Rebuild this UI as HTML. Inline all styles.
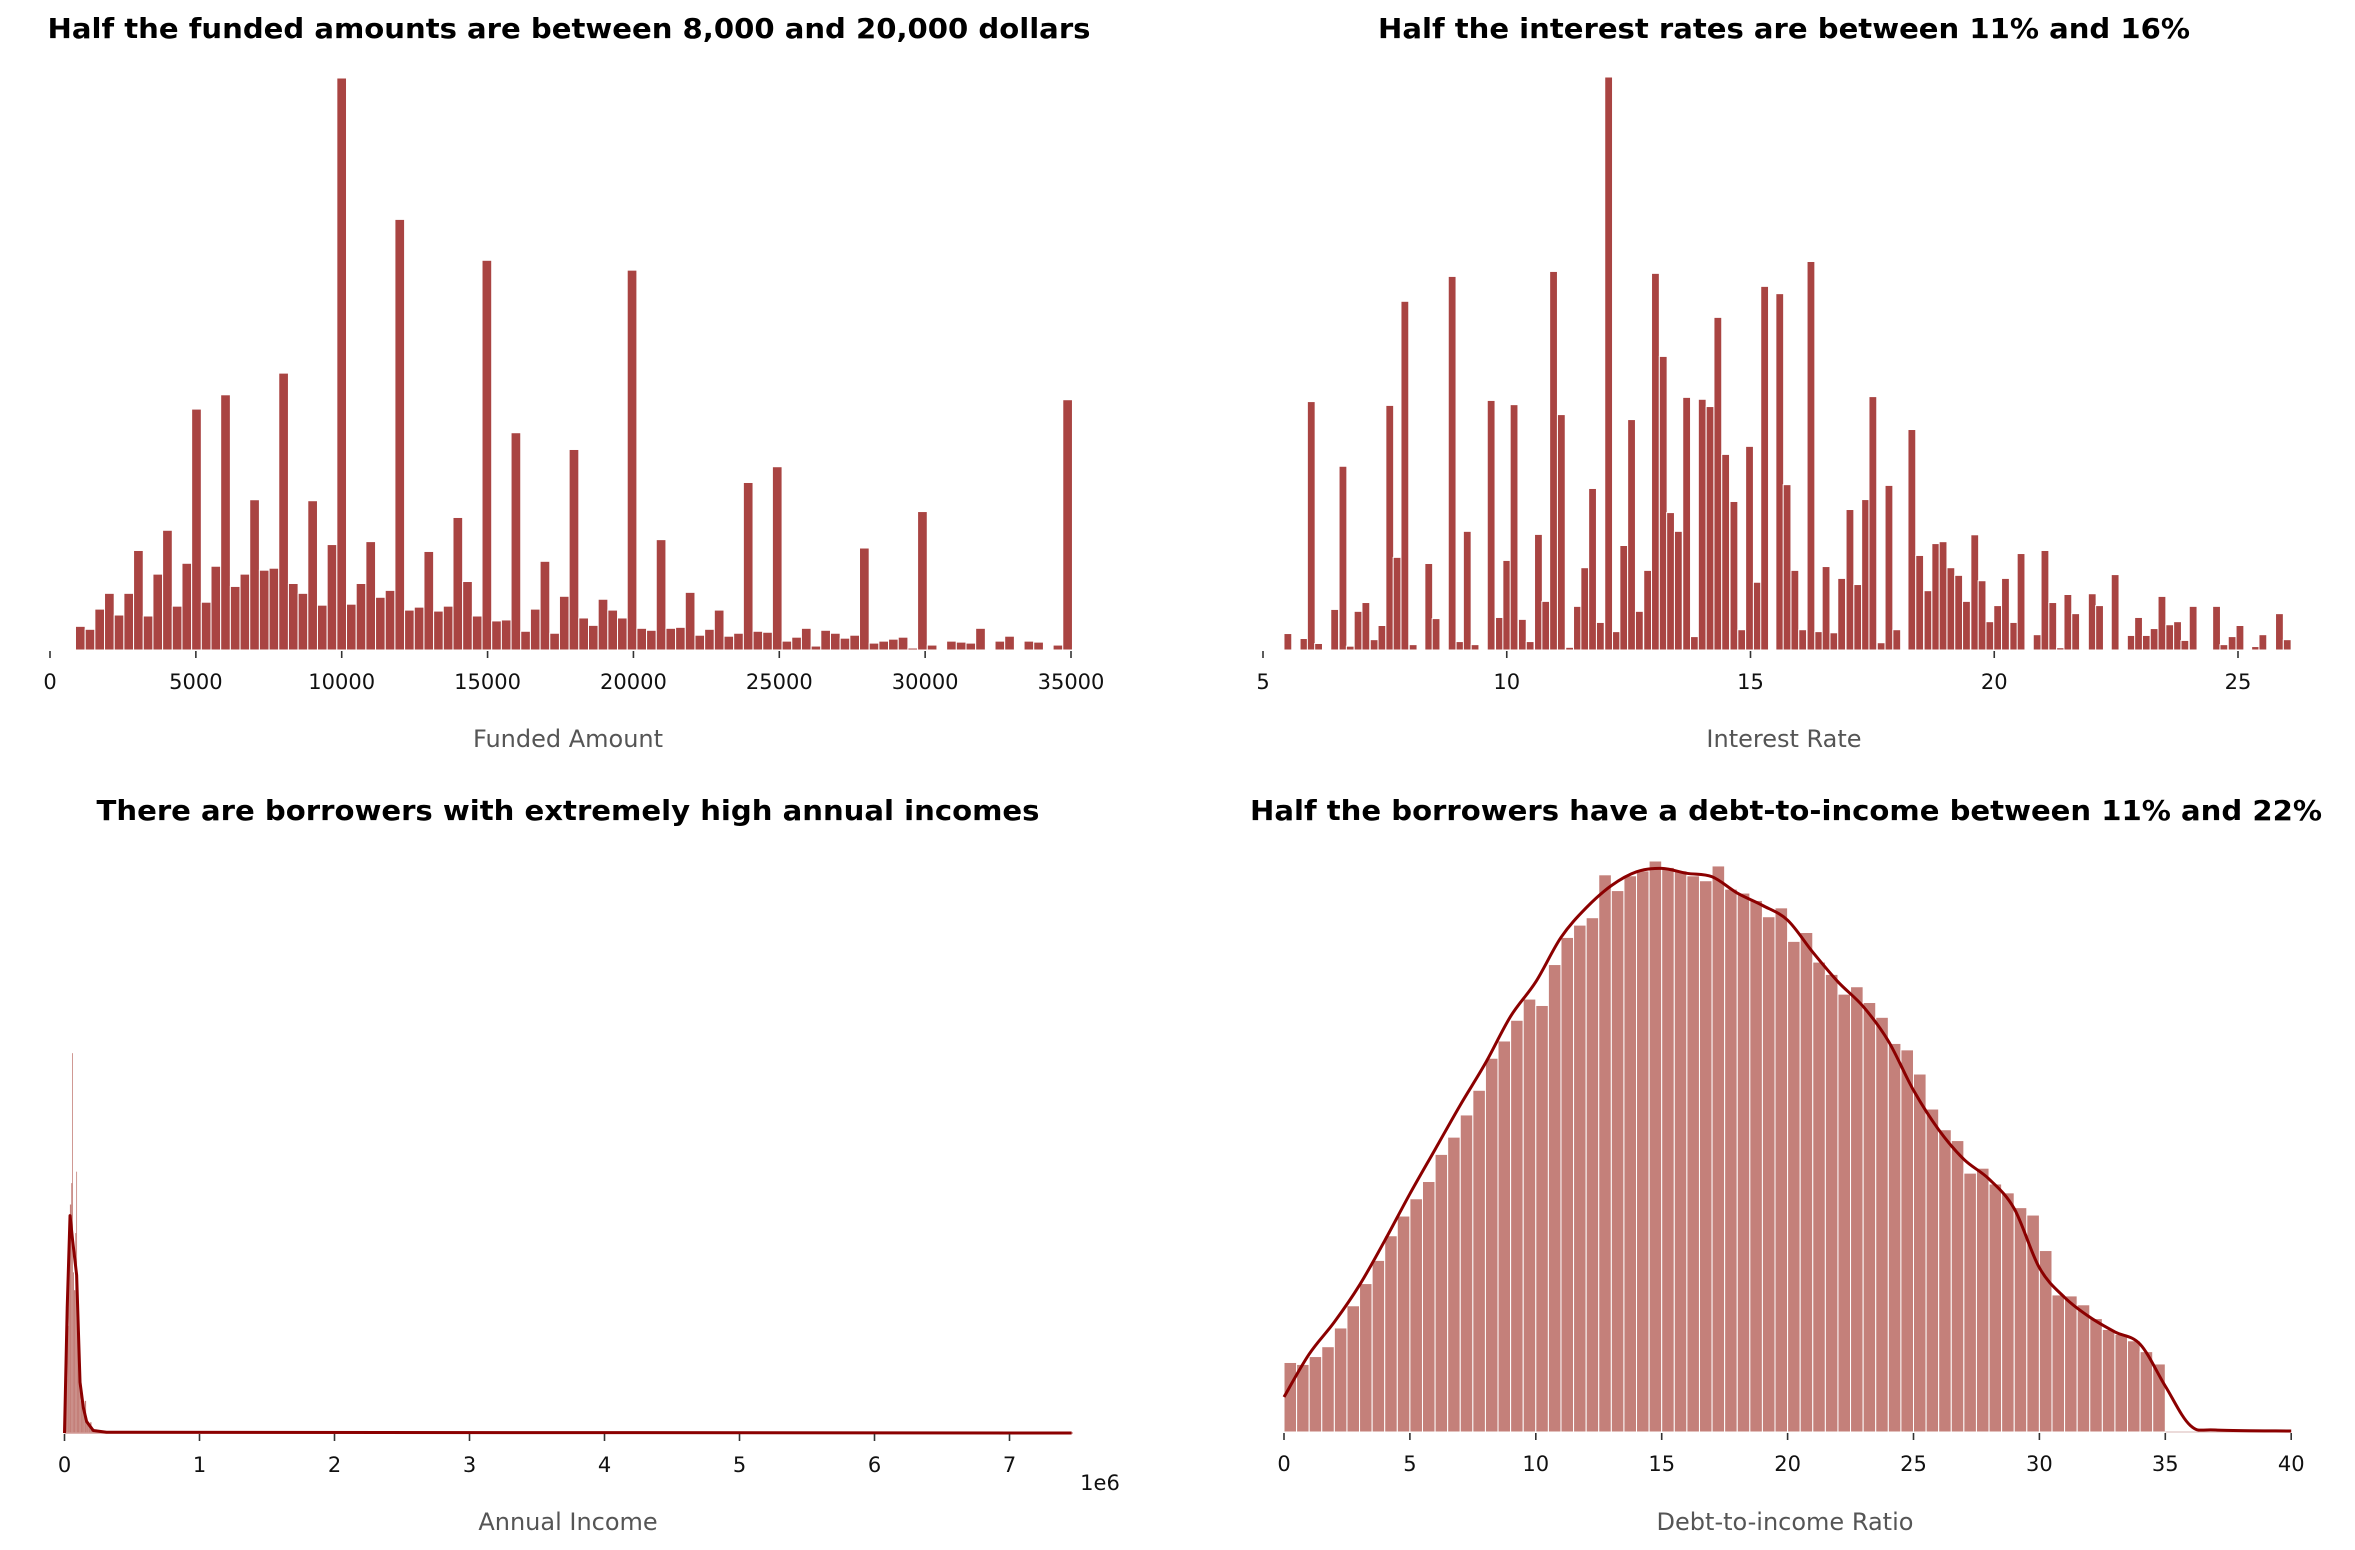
<!DOCTYPE html>
<html><head><meta charset="utf-8"><style>
html,body{margin:0;padding:0;background:#fff;}
svg{display:block;font-family:"DejaVu Sans","Liberation Sans",sans-serif;}
.title{font-weight:bold;font-size:28px;fill:#000;}
.tick{font-size:21px;fill:#111;}
.xlab{font-size:24px;fill:#555;}
</style></head><body>
<svg id="chart" width="2355" height="1550" viewBox="0 0 2355 1550" xmlns="http://www.w3.org/2000/svg">
<rect width="2355" height="1550" fill="#fff"/>
<text class="title" x="569" y="38" text-anchor="middle" textLength="1043" lengthAdjust="spacingAndGlyphs">Half the funded amounts are between 8,000 and 20,000 dollars</text>
<text class="title" x="1784" y="38" text-anchor="middle" textLength="812" lengthAdjust="spacingAndGlyphs">Half the interest rates are between 11% and 16%</text>
<text class="title" x="568" y="820" text-anchor="middle" textLength="943" lengthAdjust="spacingAndGlyphs">There are borrowers with extremely high annual incomes</text>
<text class="title" x="1786" y="820" text-anchor="middle" textLength="1072" lengthAdjust="spacingAndGlyphs">Half the borrowers have a debt-to-income between 11% and 22%</text>
<text class="xlab" x="568" y="747" text-anchor="middle">Funded Amount</text>
<text class="xlab" x="1784" y="747" text-anchor="middle">Interest Rate</text>
<text class="xlab" x="568" y="1530" text-anchor="middle">Annual Income</text>
<text class="xlab" x="1785" y="1530" text-anchor="middle">Debt-to-income Ratio</text>
<text class="tick" x="1100" y="1490" text-anchor="middle">1e6</text>
<g id="g1"></g>
<g id="g2"></g>
<g id="g3"></g>
<g id="g4"></g>
</svg>
<script>
// Funded amount histogram
const fundedCounts = [48,42,83,115,71,115,202,69,154,243,89,176,489,97,170,518,129,154,305,162,166,562,135,115,303,91,214,1161,93,135,220,107,121,874,81,87,200,79,89,269,139,69,791,59,61,441,38,83,180,34,109,407,65,50,103,81,65,771,44,40,224,44,46,117,30,42,81,28,34,340,38,36,372,18,26,44,8,40,34,24,30,207,14,18,22,26,4,281,10,0,18,16,14,44,0,18,28,0,18,16,0,10,508];
const fundedRange = [874, 35050];
const fundedTicks = [0,5000,10000,15000,20000,25000,30000,35000];
// Interest rate histogram (bar centers and counts)
const rateValues = [5.51,5.84,5.99,6.14,6.47,6.64,6.79,6.95,7.11,7.28,7.44,7.60,7.75,7.91,8.08,8.40,8.55,8.88,9.04,9.19,9.35,9.68,9.85,10.00,10.15,10.32,10.48,10.65,10.80,10.96,11.12,11.29,11.45,11.60,11.76,11.92,12.09,12.25,12.40,12.56,12.72,12.89,13.05,13.21,13.36,13.52,13.69,13.85,14.01,14.17,14.33,14.49,14.66,14.82,14.98,15.14,15.29,15.60,15.75,15.91,16.07,16.24,16.40,16.55,16.71,16.87,17.04,17.20,17.36,17.51,17.68,17.84,18.00,18.31,18.47,18.64,18.80,18.95,19.11,19.27,19.43,19.60,19.75,19.91,20.07,20.23,20.40,20.55,20.88,21.04,21.20,21.36,21.51,21.67,22.01,22.16,22.48,22.81,22.96,23.12,23.28,23.44,23.60,23.76,23.91,24.08,24.56,24.71,24.88,25.04,25.36,25.51,25.85,26.01];
const rateCounts = [43,30,649,17,106,480,10,101,124,27,64,639,242,911,14,226,82,976,22,310,14,652,85,234,641,80,22,302,127,989,615,7,114,215,422,72,1497,48,273,602,101,208,984,767,359,310,660,35,655,636,869,511,388,53,532,177,950,931,432,208,53,1015,48,218,45,187,367,171,393,662,19,430,53,576,247,155,278,283,215,195,127,301,181,74,116,187,72,252,40,260,124,6,145,95,147,116,197,38,85,38,56,140,66,74,25,114,114,14,35,64,9,40,95,27];
const rateTicks = [5,10,15,20,25];
// Annual income histogram (bins in $1000s) + KDE
const incomeBinStarts = [10,20,30,40,50,57,60,70,80,87,90,100,110,120,130,140,150,160,170,180,190,200,210,220,230,240];
const incomeBinWidths = [10,10,10,10,7,2,10,10,7,2,10,10,10,10,10,10,10,10,10,10,10,10,10,10,10,10];
const incomeCounts = [150,300,500,640,700,1064,450,400,560,732,300,200,150,90,80,60,90,40,30,25,30,10,12,8,10,6];
const incomeKdeX = [0,20,41,60,90,115,140,164,213,311,7460];
const incomeKdeY = [0,350,609,540,442,142,70,32,7,2,0];
const incomeTicks = [0,1,2,3,4,5,6,7];
// Debt-to-income histogram (0.5 wide bins from 0) + KDE
const dtiCounts = [141,137,153,173,211,256,301,348,398,438,473,508,563,598,643,693,758,793,835,878,865,948,1003,1028,1043,1130,1098,1128,1138,1158,1145,1138,1128,1118,1148,1101,1093,1078,1045,1063,995,1013,953,928,888,903,871,841,788,775,726,655,613,591,525,535,503,485,455,440,368,278,276,258,230,208,198,185,163,138];
const dtiKdeX = [0,1,2,3,4,5,6,7,8,9,10,11,12,13,14,15,16,17,18,19,20,21,22,23,24,25,26,27,28,29,30,31,32,33,34,35,36,37,40];
const dtiKdeY = [71,158,223,298,388,483,573,663,748,843,913,1003,1063,1108,1136,1143,1133,1126,1093,1068,1038,973,913,863,793,693,613,553,513,453,333,273,233,203,178,93,13,4,2];
const dtiTicks = [0,5,10,15,20,25,30,35,40];

const NS = "http://www.w3.org/2000/svg";
function mk(tag, parent){ const e=document.createElementNS(NS,tag); parent.appendChild(e); return e; }
function ticks(g, vals, sx, base, labels, nm){
  vals.forEach((v,i)=>{
    const l=mk('line',g);
    
    
    l.setAttribute('x1',sx(v)); l.setAttribute('x2',sx(v));
    l.setAttribute('y1',base+1); l.setAttribute('y2',base+8);
    l.setAttribute('stroke','#333'); l.setAttribute('stroke-width','1.6');
    const t=mk('text',g);
    
    
    t.setAttribute('class','tick'); t.setAttribute('x',sx(v)); t.setAttribute('y',base+39);
    t.setAttribute('text-anchor','middle'); t.textContent=labels[i];
  });
}
function bar(g, x, w, y, h, fill, nm){
  const r=mk('rect',g);
  
  
  r.setAttribute('x',x); r.setAttribute('y',y); r.setAttribute('width',Math.max(w,0.5)); r.setAttribute('height',Math.max(h,0));
  r.setAttribute('fill',fill); r.setAttribute('stroke','#fff'); r.setAttribute('stroke-width','1');
}
function smoothPath(pts){
  let d='M'+pts[0][0]+','+pts[0][1];
  for(let i=0;i<pts.length-1;i++){
    const p0=pts[Math.max(i-1,0)],p1=pts[i],p2=pts[i+1],p3=pts[Math.min(i+2,pts.length-1)];
    const c1=[p1[0]+(p2[0]-p0[0])/6,p1[1]+(p2[1]-p0[1])/6];
    const c2=[p2[0]-(p3[0]-p1[0])/6,p2[1]-(p3[1]-p1[1])/6];
    d+=' C'+c1[0]+','+c1[1]+' '+c2[0]+','+c2[1]+' '+p2[0]+','+p2[1];
  }
  return d;
}
// Panel 1
(function(){
  const g=document.getElementById('g1');
  const sx=v=>50+(v/35000)*1021, base=650, sy=c=>c*572/1161;
  const n=fundedCounts.length, w=(fundedRange[1]-fundedRange[0])/n;
  fundedCounts.forEach((c,i)=>{
    const x0=sx(fundedRange[0]+i*w), x1=sx(fundedRange[0]+(i+1)*w);
    bar(g,x0,x1-x0,base-sy(c),sy(c),'#a94442','funded-amount-bar');
  });
  ticks(g,fundedTicks,sx,base,fundedTicks.map(String),'funded-amount');
})();
// Panel 2
(function(){
  const g=document.getElementById('g2');
  const sx=v=>1263+(v-5)*48.75, base=650, sy=c=>c*573/1497;
  const w=0.16*48.75;
  rateValues.forEach((v,i)=>{
    const c=rateCounts[i];
    bar(g,sx(v)-w/2,w,base-sy(c),sy(c),'#a94442','interest-rate-bar');
  });
  ticks(g,rateTicks,sx,base,rateTicks.map(String),'interest-rate');
})();
// Panel 3
(function(){
  const g=document.getElementById('g3');
  const sx=k=>64.5+k*0.135, base=1433, sy=c=>c*0.357;
  incomeCounts.forEach((c,i)=>{
    const x0=sx(incomeBinStarts[i]), x1=sx(incomeBinStarts[i]+incomeBinWidths[i]);
    const r=mk('rect',g);
    
    
    r.setAttribute('x',x0); r.setAttribute('y',base-sy(c)); r.setAttribute('width',Math.max(x1-x0,0.8)); r.setAttribute('height',sy(c));
    r.setAttribute('fill','#c4807a');
  });
  const bl=mk('line',g);
  
  
  bl.setAttribute('x1',sx(0)); bl.setAttribute('x2',1073); bl.setAttribute('y1',base); bl.setAttribute('y2',base);
  bl.setAttribute('stroke','#d29a95'); bl.setAttribute('stroke-width','1.5');
  const pts=incomeKdeX.map((k,i)=>[sx(k),base-sy(incomeKdeY[i])]);
  const p=mk('path',g);
  
  
  let d='M'+pts[0][0]+','+pts[0][1]; pts.slice(1).forEach(q=>d+=' L'+q[0]+','+q[1]);
  p.setAttribute('d',d); p.setAttribute('fill','none'); p.setAttribute('stroke','#8b0000'); p.setAttribute('stroke-width','3'); p.setAttribute('stroke-linejoin','round');
  ticks(g,incomeTicks,v=>sx(v*1000),base,incomeTicks.map(String),'annual-income');
})();
// Panel 4
(function(){
  const g=document.getElementById('g4');
  const sx=v=>1284+v*25.18, base=1432, sy=c=>c*571/1158;
  dtiCounts.forEach((c,i)=>{
    const x0=sx(i*0.5), x1=sx((i+1)*0.5);
    bar(g,x0,x1-x0,base-sy(c),sy(c),'#c4807a','dti-bar');
  });
  const bl=mk('line',g);
  
  
  bl.setAttribute('x1',sx(35)); bl.setAttribute('x2',sx(40)); bl.setAttribute('y1',base); bl.setAttribute('y2',base);
  bl.setAttribute('stroke','#e6cfcd'); bl.setAttribute('stroke-width','1.5');
  const pts=dtiKdeX.map((v,i)=>[sx(v),base-sy(dtiKdeY[i])]);
  const p=mk('path',g);
  
  
  p.setAttribute('d',smoothPath(pts)); p.setAttribute('fill','none'); p.setAttribute('stroke','#8b0000'); p.setAttribute('stroke-width','3');
  ticks(g,dtiTicks,sx,base,dtiTicks.map(String),'dti');
})();
</script>
</body></html>
